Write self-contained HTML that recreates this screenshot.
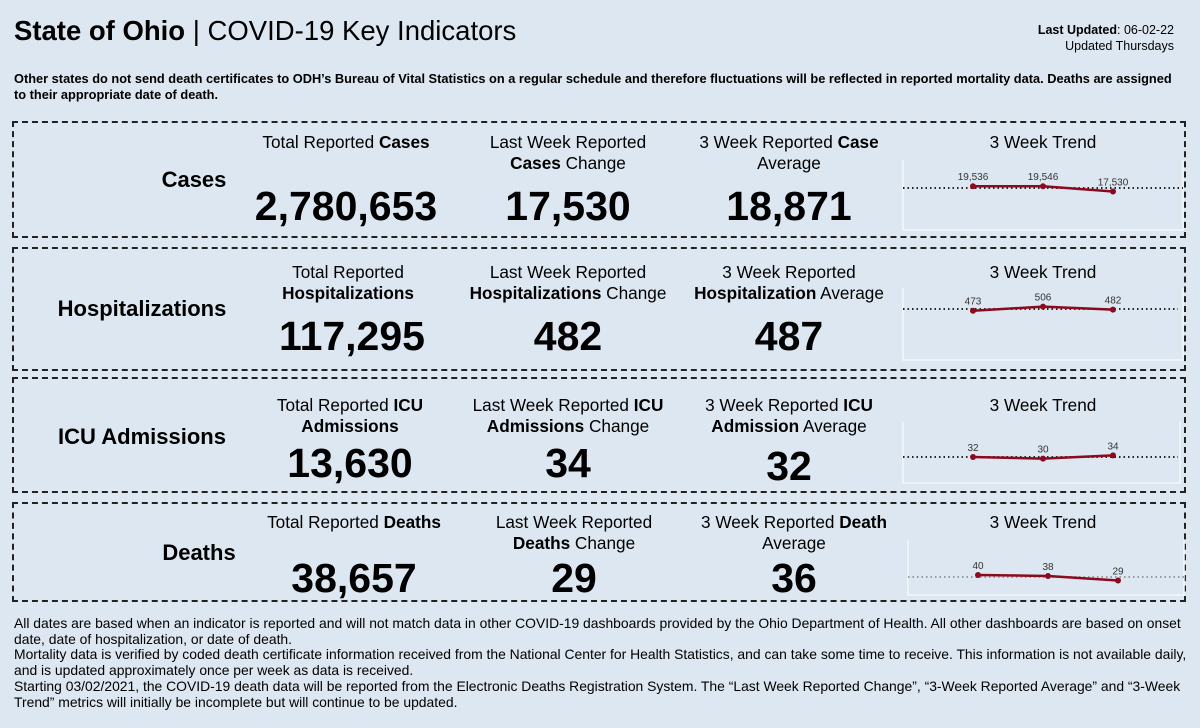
<!DOCTYPE html>
<html><head><meta charset="utf-8"><style>
body{margin:0;width:1200px;height:728px;background:#dde7f1;font-family:"Liberation Sans",sans-serif;color:#000;position:relative;overflow:hidden}
.a{position:absolute;white-space:nowrap}
.panel{position:absolute;left:12px;width:1174px;border:2px dashed #222;box-sizing:border-box}
.h{font-size:17.2px;text-align:center;line-height:21px;transform:translateX(-50%)}
.big{font-size:41px;font-weight:bold;transform:translateX(-50%)}
.rt{font-size:22px;font-weight:bold;transform:translateX(-50%)}
.foot{font-size:13.9px;line-height:15.7px;left:14px;top:616px}
</style></head><body>
<div class="a" style="left:14px;top:15px;font-size:27.5px"><b>State of Ohio</b> | COVID-19 Key Indicators</div>
<div class="a" style="right:26px;top:22px;font-size:12.5px;text-align:right;line-height:16px"><b>Last Updated</b>: 06-02-22<br>Updated Thursdays</div>
<div class="a" style="left:14px;top:71px;font-size:12.8px;font-weight:bold;line-height:16px">Other states do not send death certificates to ODH’s Bureau of Vital Statistics on a regular schedule and therefore fluctuations will be reflected in reported mortality data. Deaths are assigned<br>to their appropriate date of death.</div>

<div class="panel" style="top:121px;height:117px"></div>
<div class="panel" style="top:247px;height:124px"></div>
<div class="panel" style="top:377px;height:116px"></div>
<div class="panel" style="top:502px;height:100px"></div>

<div class="a rt" style="left:194px;top:167px">Cases</div>
<div class="a h" style="left:346px;top:132px">Total Reported <b>Cases</b></div>
<div class="a big" style="left:346px;top:183px">2,780,653</div>
<div class="a h" style="left:568px;top:132px">Last Week Reported<br><b>Cases</b> Change</div>
<div class="a big" style="left:568px;top:183px">17,530</div>
<div class="a h" style="left:789px;top:132px">3 Week Reported <b>Case</b><br>Average</div>
<div class="a big" style="left:789px;top:183px">18,871</div>
<div class="a h" style="left:1043px;top:132px">3 Week Trend</div>

<div class="a rt" style="left:142px;top:296px">Hospitalizations</div>
<div class="a h" style="left:348px;top:262px">Total Reported<br><b>Hospitalizations</b></div>
<div class="a big" style="left:352px;top:313px">117,295</div>
<div class="a h" style="left:568px;top:262px">Last Week Reported<br><b>Hospitalizations</b> Change</div>
<div class="a big" style="left:568px;top:313px">482</div>
<div class="a h" style="left:789px;top:262px">3 Week Reported<br><b>Hospitalization</b> Average</div>
<div class="a big" style="left:789px;top:313px">487</div>
<div class="a h" style="left:1043px;top:262px">3 Week Trend</div>

<div class="a rt" style="left:142px;top:424px">ICU Admissions</div>
<div class="a h" style="left:350px;top:395px">Total Reported <b>ICU</b><br><b>Admissions</b></div>
<div class="a big" style="left:350px;top:440px">13,630</div>
<div class="a h" style="left:568px;top:395px">Last Week Reported <b>ICU</b><br><b>Admissions</b> Change</div>
<div class="a big" style="left:568px;top:440px">34</div>
<div class="a h" style="left:789px;top:395px">3 Week Reported <b>ICU</b><br><b>Admission</b> Average</div>
<div class="a big" style="left:789px;top:443px">32</div>
<div class="a h" style="left:1043px;top:395px">3 Week Trend</div>

<div class="a rt" style="left:199px;top:540px">Deaths</div>
<div class="a h" style="left:354px;top:512px">Total Reported <b>Deaths</b></div>
<div class="a big" style="left:354px;top:555px">38,657</div>
<div class="a h" style="left:574px;top:512px">Last Week Reported<br><b>Deaths</b> Change</div>
<div class="a big" style="left:574px;top:555px">29</div>
<div class="a h" style="left:794px;top:512px">3 Week Reported <b>Death</b><br>Average</div>
<div class="a big" style="left:794px;top:555px">36</div>
<div class="a h" style="left:1043px;top:512px">3 Week Trend</div>

<svg id="spark" class="a" style="left:0;top:0" width="1200" height="728"></svg>

<div class="a foot">All dates are based when an indicator is reported and will not match data in other COVID-19 dashboards provided by the Ohio Department of Health. All other dashboards are based on onset<br>date, date of hospitalization, or date of death.<br>Mortality data is verified by coded death certificate information received from the National Center for Health Statistics, and can take some time to receive. This information is not available daily,<br>and is updated approximately once per week as data is received.<br>Starting 03/02/2021, the COVID-19 death data will be reported from the Electronic Deaths Registration System. The “Last Week Reported Change”, “3-Week Reported Average” and “3-Week<br>Trend” metrics will initially be incomplete but will continue to be updated.</div>

<script>
const casesValues=[19536,19546,17530];
const casesAvg=18871;
const hospValues=[473,506,482];
const hospAvg=487;
const icuValues=[32,30,34];
const icuAvg=32;
const deathsValues=[40,38,29];
const deathsAvg=36;
const charts=[
 {name:'cases',vals:casesValues,avg:casesAvg,base:238,avgY:188,top:160,bot:230,x0:903,x1:1183,lineX0:903,lineX1:1183,dot:'#222'},
 {name:'hosp',vals:hospValues,avg:hospAvg,base:369,avgY:309,top:288,bot:360,x0:903,x1:1183,lineX0:903,lineX1:1178,dot:'#222'},
 {name:'icu',vals:icuValues,avg:icuAvg,base:483,avgY:457,top:422,bot:483,x0:903,x1:1180,lineX0:903,lineX1:1178,dot:'#222'},
 {name:'deaths',vals:deathsValues,avg:deathsAvg,base:595,avgY:577,top:540,bot:595,x0:908,x1:1184,lineX0:908,lineX1:1184,dot:'#999'}
];
const ns='http://www.w3.org/2000/svg';
const svg=document.getElementById('spark');
function mk(t,a){const e=document.createElementNS(ns,t);for(const k in a)e.setAttribute(k,a[k]);svg.appendChild(e);return e;}
charts.forEach(c=>{
 const yS=v=>c.base-v/c.avg*(c.base-c.avgY);
 const xS=i=>c.x0+70+i*70;
 const fr=mk('path',{d:`M${c.x0},${c.top}V${c.bot}H${c.x1}V${c.top}`,fill:'none',stroke:'#f4f7fb','stroke-width':1.5});
 
 
 const ay=yS(c.avg);
 const al=mk('line',{x1:c.lineX0,x2:c.lineX1,y1:ay,y2:ay,stroke:c.dot,'stroke-width':2,'stroke-dasharray':'1.5 3'});
 
 
 const pts=c.vals.map((v,i)=>xS(i)+','+yS(v)).join(' ');
 const pl=mk('polyline',{points:pts,fill:'none',stroke:'#8b0a1e','stroke-width':2.5});
 
 
 c.vals.forEach((v,i)=>{
  const d=mk('circle',{cx:xS(i),cy:yS(v),r:3,fill:'#8b0a1e'});
  
  
  const t=mk('text',{x:xS(i),y:yS(v)-6,'text-anchor':'middle','font-size':10,fill:'#333','font-family':'Liberation Sans, sans-serif'});
  t.textContent=v.toLocaleString('en-US');
  
  
 });
});
</script>
</body></html>
